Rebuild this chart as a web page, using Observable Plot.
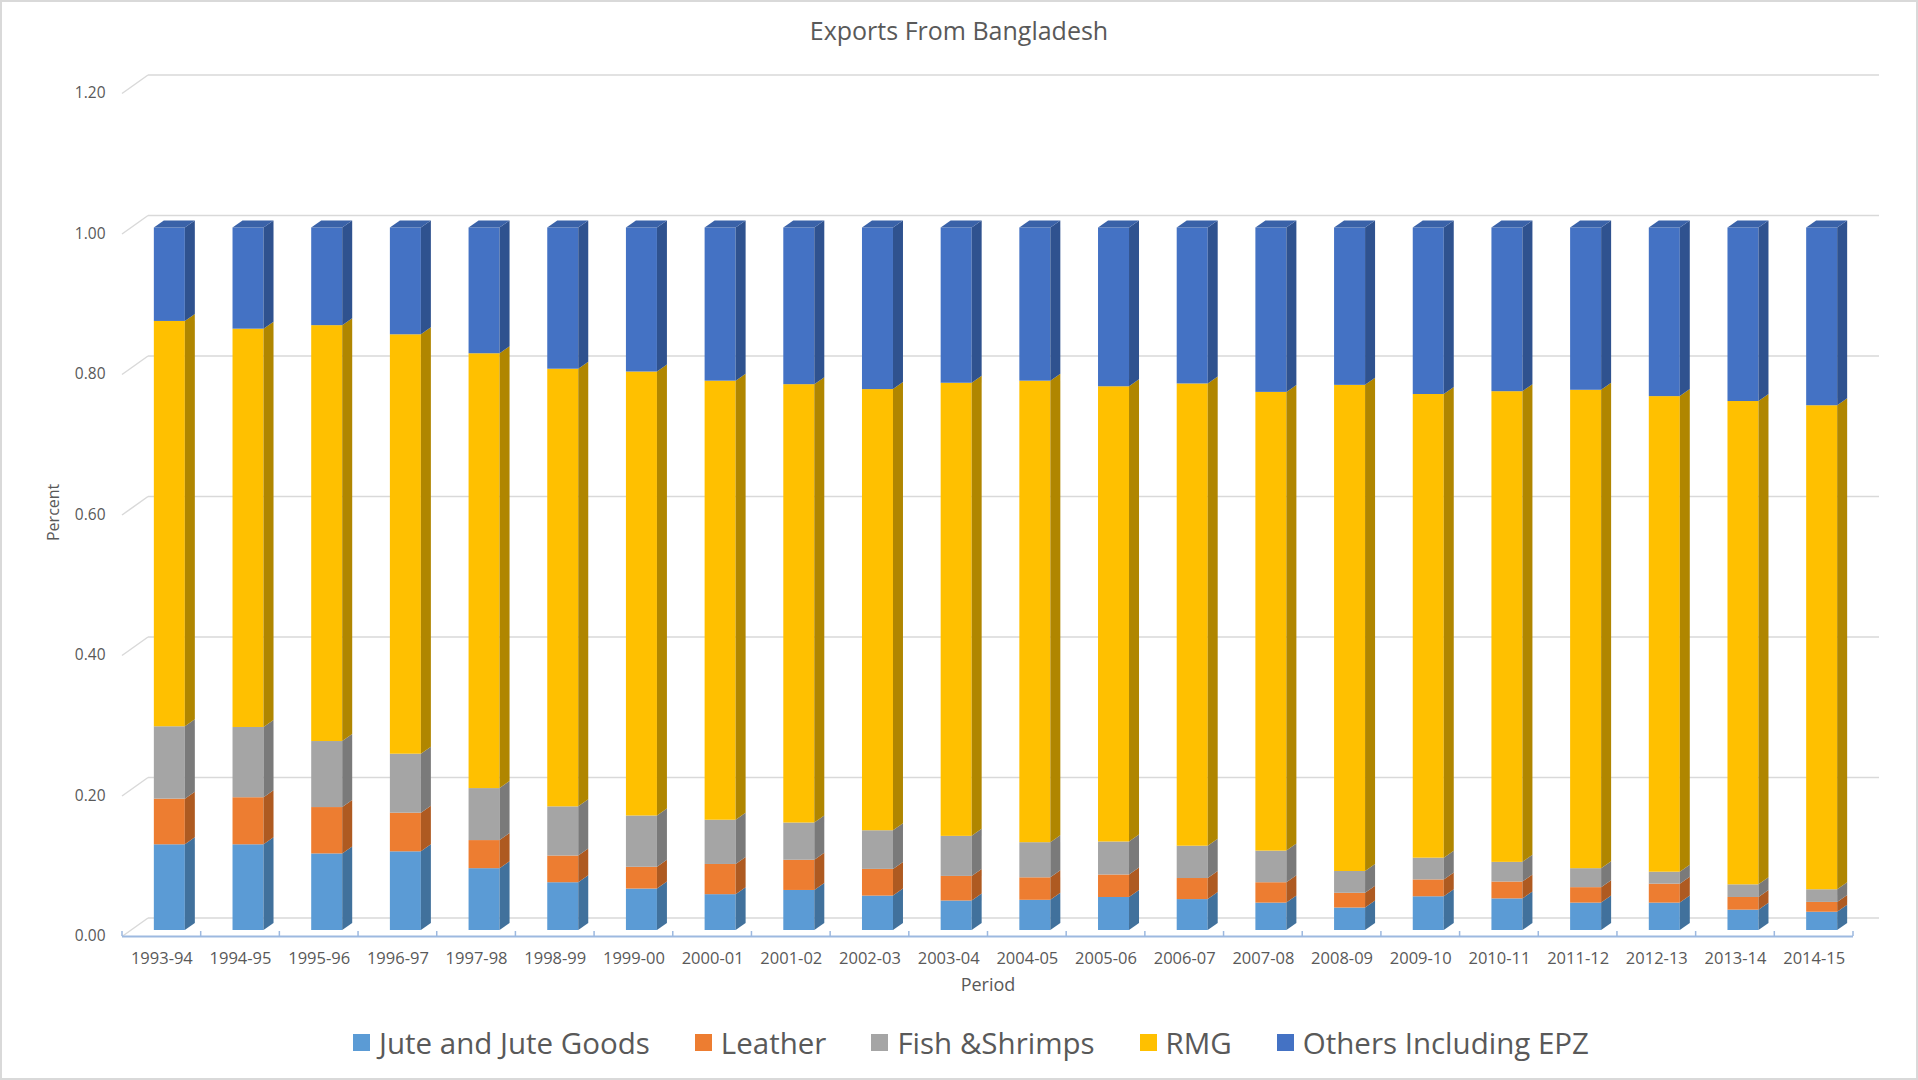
<!DOCTYPE html>
<html>
<head>
<meta charset="utf-8">
<script src="https://cdn.jsdelivr.net/npm/d3@7"></script>
<script src="https://cdn.jsdelivr.net/npm/@observablehq/plot@0.6"></script>
<style>
  body { margin: 0; background: #fff; }
  #chart { position: relative; width: 1918px; height: 1080px; font-family: "Open Sans", sans-serif; overflow: hidden; background: #fff; }
  #frame { position: absolute; left: 0; top: 0; width: 1918px; height: 1080px; box-sizing: border-box; border: 2px solid #D9D9D9; pointer-events: none; }
  #title { position: absolute; left: 0; top: 0; width: 100%; height: 60px; line-height: 60px; text-align: center; font-size: 25px; color: #595959; }
  #plot { position: absolute; left: 0; top: 60px; }
  #legend { position: absolute; left: 12px; top: 1007px; width: 100%; height: 70px; display: flex; align-items: center; justify-content: center; gap: 45px; font-size: 29.5px; color: #595959; }
  .item { display: flex; align-items: center; gap: 9px; }
  .sw { width: 17px; height: 17px; display: inline-block; }
</style>
</head>
<body>
<div id="chart">
  <div id="title">Exports From Bangladesh</div>
  <div id="plot"></div>
  <div id="legend"></div>
  <div id="frame"></div>
</div>
<script>
// ---- data ----
const periods = ["1993-94","1994-95","1995-96","1996-97","1997-98","1998-99","1999-00","2000-01","2001-02","2002-03","2003-04","2004-05","2005-06","2006-07","2007-08","2008-09","2009-10","2010-11","2011-12","2012-13","2013-14","2014-15"];
const jute    = [0.122,0.122,0.109,0.112,0.088,0.068,0.059,0.051,0.057,0.049,0.042,0.043,0.047,0.044,0.039,0.032,0.048,0.045,0.039,0.039,0.029,0.026];
const leather = [0.065,0.067,0.066,0.055,0.040,0.038,0.031,0.043,0.043,0.038,0.035,0.032,0.032,0.030,0.029,0.021,0.024,0.024,0.022,0.027,0.018,0.014];
const fish    = [0.103,0.100,0.094,0.084,0.074,0.070,0.073,0.063,0.053,0.055,0.057,0.050,0.047,0.046,0.045,0.031,0.031,0.028,0.027,0.017,0.018,0.018];
const rmg     = [0.577,0.567,0.592,0.597,0.619,0.623,0.632,0.625,0.624,0.628,0.645,0.657,0.648,0.658,0.653,0.692,0.660,0.670,0.681,0.677,0.688,0.689];
const others  = [0.133,0.144,0.139,0.152,0.179,0.201,0.205,0.218,0.223,0.230,0.221,0.218,0.226,0.222,0.234,0.224,0.237,0.233,0.231,0.240,0.247,0.253];
const seriesNames = ["Jute and Jute Goods","Leather","Fish &Shrimps","RMG","Others Including EPZ"];
const seriesValues = [jute, leather, fish, rmg, others];
const yTicks = [0, 0.2, 0.4, 0.6, 0.8, 1.0, 1.2];

// ---- styles ----
const colors = ["#5B9BD5","#ED7D31","#A5A5A5","#FFC000","#4472C4"];
const sideColors = ["#41719C","#AE5A21","#7A7A7A","#B08600","#2F528F"];
const topColor = "#3A62A8";
const textColor = "#595959";
const gridColor = "#D9D9D9";
const axisColor = "#9DB9E0";

const W = 1918, H = 950;
const mL = 122, mR = 65, mT = 27, mB = 80;
const step = (W - mL - mR) / periods.length;
const barW = 31;
const barInset = (step - barW) / 2;
const DX = 10, DY = 7;          // bar depth
const WX = 26, WY = 18.5;       // wall depth
const svgNS = "http://www.w3.org/2000/svg";

const rows = [];
periods.forEach((p, i) => {
  seriesNames.forEach((s, si) => rows.push({period: p, series: s, si, value: seriesValues[si][i]}));
});

function extrude(index, scales, values, dimensions, context, next) {
  const g = next(index, scales, values, dimensions, context);
  const rects = Array.from(g.querySelectorAll("rect"));
  rects.forEach((r, k) => {
    const d = rows[index[k]];
    const x = +r.getAttribute("x"), y = +r.getAttribute("y");
    const w = +r.getAttribute("width"), h = +r.getAttribute("height");
    const side = document.createElementNS(svgNS, "polygon");
    side.setAttribute("points", `${x+w},${y+h} ${x+w+DX},${y+h-DY} ${x+w+DX},${y-DY} ${x+w},${y}`);
    side.setAttribute("fill", sideColors[d.si]);
    g.appendChild(side);
    if (d.si === seriesNames.length - 1) {
      const top = document.createElementNS(svgNS, "polygon");
      top.setAttribute("points", `${x},${y} ${x+w},${y} ${x+w+DX},${y-DY} ${x+DX},${y-DY}`);
      top.setAttribute("fill", topColor);
      g.appendChild(top);
    }
  });
  return g;
}

function diagonal(index, scales, values, dimensions, context, next) {
  const g = next(index, scales, values, dimensions, context);
  g.querySelectorAll("line").forEach(l => {
    const x1 = +l.getAttribute("x1"), y1 = +l.getAttribute("y1");
    l.setAttribute("x2", x1 + WX);
    l.setAttribute("y1", y1 + 6);
    l.setAttribute("y2", y1 + 6 - WY);
  });
  return g;
}

const plot = Plot.plot({
  width: W, height: H,
  marginLeft: mL, marginRight: mR, marginTop: mT, marginBottom: mB,
  style: {fontFamily: "'Open Sans', sans-serif", background: "transparent", overflow: "visible"},
  x: {type: "band", domain: periods, padding: 0, round: false, axis: null},
  y: {domain: [0, 1.2], axis: null},
  color: {domain: seriesNames, range: colors},
  marks: [
    // back-wall gridlines
    Plot.ruleY(yTicks, {stroke: gridColor, strokeWidth: 1.5, dx: WX, dy: 6 - WY}),
    // side-wall diagonals
    Plot.ruleY(yTicks, {stroke: gridColor, strokeWidth: 1.5, render: diagonal}),
    // front axis line
    Plot.ruleY([0], {stroke: axisColor, strokeWidth: 2, dy: 6}),
    // category boundary ticks
    Plot.barY(periods, {x: d => d, y1: 0, y2: 0, insetTop: -5, insetLeft: -0.75, insetRight: step - 0.75, dy: 6, fill: axisColor}),
    Plot.barY(periods.slice(-1), {x: d => d, y1: 0, y2: 0, insetTop: -5, insetLeft: step - 0.75, insetRight: -0.75, dy: 6, fill: axisColor}),
    // stacked 3D bars
    Plot.barY(rows, {x: "period", y: "value", fill: "series", insetLeft: barInset, insetRight: barInset, dx: 8, render: extrude}),
    // y tick labels
    Plot.axisY(yTicks, {tickSize: 0, tickPadding: 17, tickFormat: d3.format(".2f"), label: null, dy: 6, fontSize: 15.5, fill: textColor}),
    // x tick labels
    Plot.text(periods, {x: d => d, y: 0, text: d => d, dy: 28, fontSize: 16.5, fill: textColor}),
    // axis titles
    Plot.text(["Period"], {frameAnchor: "bottom", text: d => d, dy: 60, fontSize: 18, fill: textColor}),
    Plot.text(["Percent"], {frameAnchor: "left", text: d => d, rotate: -90, dx: -69, dy: 32, fontSize: 16, fill: textColor})
  ]
});
document.getElementById("plot").appendChild(plot);

// legend
const legend = document.getElementById("legend");
seriesNames.forEach((s, i) => {
  const it = document.createElement("div");
  it.className = "item";
  it.innerHTML = `<span class="sw" style="background:${colors[i]}"></span><span>${s.replace("&", "&amp;")}</span>`;
  legend.appendChild(it);
});
</script>
</body>
</html>
